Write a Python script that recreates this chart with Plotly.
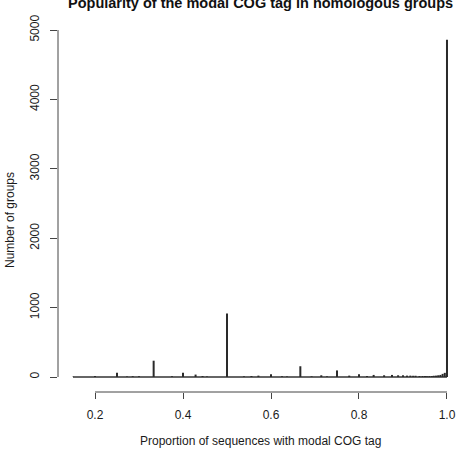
import plotly.graph_objects as go

# Proportion of sequences with modal COG tag (distinct values) and group counts
proportions = [0.15, 0.2, 0.25, 0.2727, 0.2857, 0.3, 0.3333, 0.375, 0.4, 0.4286,
               0.4444, 0.4545, 0.5, 0.5385, 0.5556, 0.5714, 0.6, 0.625, 0.6364,
               0.6667, 0.6923, 0.7143, 0.7273, 0.75, 0.7778, 0.8, 0.8182, 0.8333,
               0.8571, 0.875, 0.8889, 0.9, 0.9091, 0.9167, 0.9231, 0.9286, 0.9375,
               0.9444, 0.95, 0.9545, 0.96, 0.9655, 0.97, 0.975, 0.98, 0.985, 0.99,
               0.995, 1.0]
group_counts = [5, 15, 60, 8, 12, 10, 235, 12, 60, 35,
                15, 8, 915, 10, 15, 20, 40, 12, 8,
                155, 10, 25, 10, 95, 20, 40, 15, 30,
                25, 30, 25, 25, 20, 20, 18, 18, 15,
                15, 15, 12, 14, 15, 18, 20, 25, 30, 45,
                60, 4860]

x_ticks = [0.2, 0.4, 0.6, 0.8, 1.0]
x_tick_labels = ["0.2", "0.4", "0.6", "0.8", "1.0"]
y_ticks = [0, 1000, 2000, 3000, 4000, 5000]
y_tick_labels = ["0", "1000", "2000", "3000", "4000", "5000"]

title_text = "Popularity of the modal COG tag in homologous groups"
x_title = "Proportion of sequences with modal COG tag"
y_title = "Number of groups"

# build vertical "h"-type segments from the data
seg_x, seg_y = [], []
for px, cnt in zip(proportions, group_counts):
    seg_x += [px, px, None]
    seg_y += [0, cnt, None]

FONT = "Liberation Sans, Arial, Helvetica, sans-serif"

fig = go.Figure()
# baseline formed by the many tiny counts
fig.add_trace(go.Scatter(x=[min(proportions), max(proportions)], y=[0, 0], mode="lines",
                         line=dict(color="#333333", width=1.5), hoverinfo="skip",
                         showlegend=False))
fig.add_trace(go.Scatter(x=seg_x, y=seg_y, mode="lines",
                         line=dict(color="#2a2a2a", width=2), showlegend=False))

W, H = 459, 456
ml, mr, mt, mb = 58, 0, 26, 64
pw, ph = W - ml - mr, H - mt - mb

fig.update_layout(
    width=W, height=H,
    margin=dict(l=ml, r=mr, t=mt, b=mb, pad=0),
    paper_bgcolor="white", plot_bgcolor="white",
    font=dict(family=FONT, size=12, color="#1a1a1a"),
    xaxis=dict(range=[0.1159, 1.0273], tickmode="array", tickvals=x_ticks,
               ticktext=x_tick_labels, showgrid=False, zeroline=False,
               showline=False, ticks="outside", ticklen=6, tickwidth=1,
               tickcolor="#444444", ticklabelstandoff=6,
               tickfont=dict(size=12, family=FONT, color="#1a1a1a")),
    yaxis=dict(range=[-216, 5058], tickmode="array", tickvals=y_ticks,
               ticktext=y_tick_labels, showgrid=False, zeroline=False,
               showline=False, ticks="outside", ticklen=7, tickwidth=1,
               tickcolor="#444444", tickangle=-90, ticklabelstandoff=6,
               tickfont=dict(size=12, family=FONT, color="#1a1a1a")),
    shapes=[
        dict(type="line", xref="x", yref="paper", x0=x_ticks[0], x1=x_ticks[-1],
             y0=0, y1=0, line=dict(color="#444444", width=1)),
        dict(type="line", xref="paper", yref="y", x0=0, x1=0,
             y0=y_ticks[0], y1=y_ticks[-1], line=dict(color="#444444", width=1)),
    ],
    annotations=[
        dict(text="<b>" + title_text + "</b>", xref="paper", yref="paper",
             x=(260 - ml) / pw, y=(H - mb - 3) / ph, xanchor="center", yanchor="middle",
             showarrow=False, font=dict(size=14.5, family=FONT, color="#111111")),
        dict(text=x_title, xref="paper", yref="paper",
             x=(260 - ml) / pw, y=(H - mb - 441) / ph, xanchor="center", yanchor="middle",
             showarrow=False, font=dict(size=12, family=FONT, color="#1a1a1a")),
        dict(text=y_title, xref="paper", yref="paper",
             x=(10 - ml) / pw, y=(H - mb - 220) / ph, xanchor="center", yanchor="middle",
             textangle=-90, showarrow=False,
             font=dict(size=12, family=FONT, color="#1a1a1a")),
    ],
)

fig.write_html("out.html")
